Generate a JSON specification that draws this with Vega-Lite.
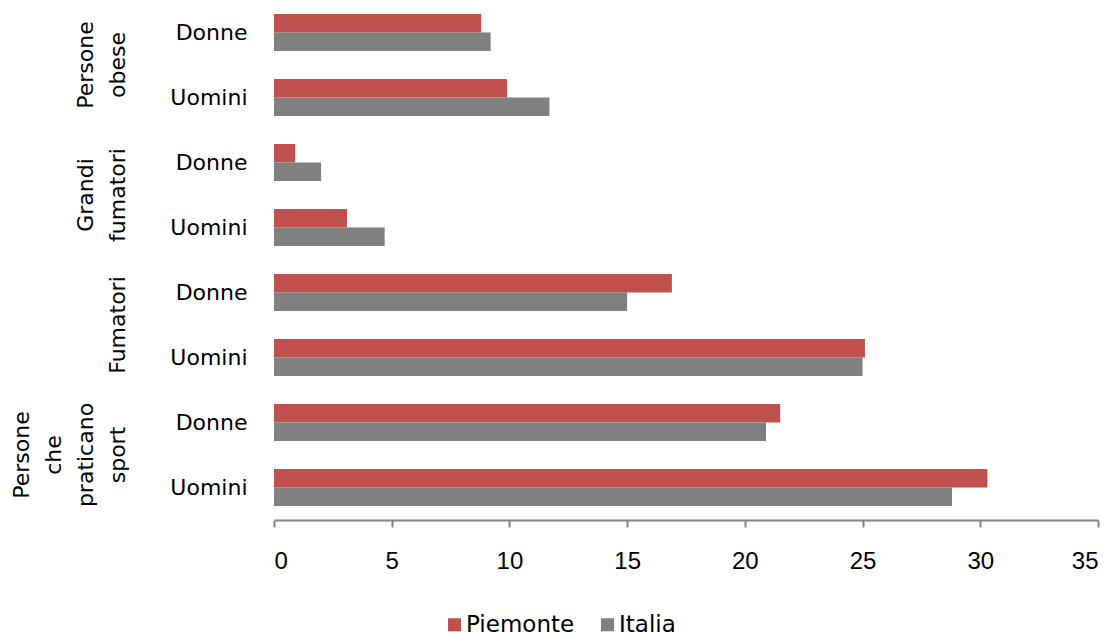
{
  "$schema": "https://vega.github.io/schema/vega-lite/v6.json",
  "background": "white",
  "padding": {"left": 10, "top": 0, "right": 5, "bottom": 0},
  "data": {
    "values": [
      {"gruppo": "Persone obese", "sesso": "Donne", "serie": "Piemonte", "valore": 8.8},
      {"gruppo": "Persone obese", "sesso": "Donne", "serie": "Italia", "valore": 9.2},
      {"gruppo": "Persone obese", "sesso": "Uomini", "serie": "Piemonte", "valore": 9.9},
      {"gruppo": "Persone obese", "sesso": "Uomini", "serie": "Italia", "valore": 11.7},
      {"gruppo": "Grandi fumatori", "sesso": "Donne", "serie": "Piemonte", "valore": 0.9},
      {"gruppo": "Grandi fumatori", "sesso": "Donne", "serie": "Italia", "valore": 2.0},
      {"gruppo": "Grandi fumatori", "sesso": "Uomini", "serie": "Piemonte", "valore": 3.1},
      {"gruppo": "Grandi fumatori", "sesso": "Uomini", "serie": "Italia", "valore": 4.7},
      {"gruppo": "Fumatori", "sesso": "Donne", "serie": "Piemonte", "valore": 16.9},
      {"gruppo": "Fumatori", "sesso": "Donne", "serie": "Italia", "valore": 15.0},
      {"gruppo": "Fumatori", "sesso": "Uomini", "serie": "Piemonte", "valore": 25.1},
      {"gruppo": "Fumatori", "sesso": "Uomini", "serie": "Italia", "valore": 25.0},
      {"gruppo": "Persone che praticano sport", "sesso": "Donne", "serie": "Piemonte", "valore": 21.5},
      {"gruppo": "Persone che praticano sport", "sesso": "Donne", "serie": "Italia", "valore": 20.9},
      {"gruppo": "Persone che praticano sport", "sesso": "Uomini", "serie": "Piemonte", "valore": 30.3},
      {"gruppo": "Persone che praticano sport", "sesso": "Uomini", "serie": "Italia", "valore": 28.8}
    ]
  },
  "facet": {
    "row": {
      "field": "gruppo",
      "type": "nominal",
      "sort": ["Persone obese", "Grandi fumatori", "Fumatori", "Persone che praticano sport"],
      "header": {
        "title": null,
        "labelOrient": "left",
        "labelAngle": -90,
        "labelExpr": "split(datum.value, ' ')",
        "labelFont": "DejaVu Sans",
        "labelFontSize": 22,
        "labelColor": "#000000",
        "labelLineHeight": 32,
        "labelBaseline": "bottom",
        "labelPadding": 18
      }
    }
  },
  "spacing": 0,
  "spec": {
    "width": 824,
    "height": 130,
    "mark": {"type": "bar"},
    "encoding": {
      "y": {
        "field": "sesso",
        "type": "nominal",
        "sort": ["Donne", "Uomini"],
        "scale": {"paddingInner": 0.43, "paddingOuter": 0.215},
        "axis": {
          "title": null,
          "domain": false,
          "ticks": false,
          "labelFont": "DejaVu Sans",
          "labelFontSize": 22,
          "labelColor": "#000000",
          "labelPadding": 27
        }
      },
      "yOffset": {"field": "serie", "type": "nominal", "sort": ["Piemonte", "Italia"], "scale": {"paddingInner": 0, "paddingOuter": 0}},
      "x": {
        "field": "valore",
        "type": "quantitative",
        "scale": {"domain": [0, 35], "nice": false, "zero": true},
        "axis": {
          "title": null,
          "grid": false,
          "values": [0, 5, 10, 15, 20, 25, 30, 35],
          "domainColor": "#868686",
          "domainWidth": 2,
          "tickColor": "#868686",
          "tickWidth": 2,
          "tickSize": 7,
          "labelFont": "Liberation Sans",
          "labelFontSize": 24,
          "labelColor": "#000000",
          "labelPadding": 22
        }
      },
      "color": {
        "field": "serie",
        "type": "nominal",
        "sort": ["Piemonte", "Italia"],
        "scale": {"domain": ["Piemonte", "Italia"], "range": ["#C0504D", "#808080"]},
        "legend": {
          "title": null,
          "orient": "none",
          "legendX": 169,
          "legendY": 613,
          "direction": "horizontal",
          "symbolType": "square",
          "symbolSize": 169,
          "symbolStrokeWidth": 0,
          "labelFont": "DejaVu Sans",
          "labelFontSize": 23,
          "labelColor": "#000000",
          "labelOffset": 0,
          "columnPadding": 21
        }
      }
    }
  },
  "config": {
    "view": {"stroke": null}
  }
}
